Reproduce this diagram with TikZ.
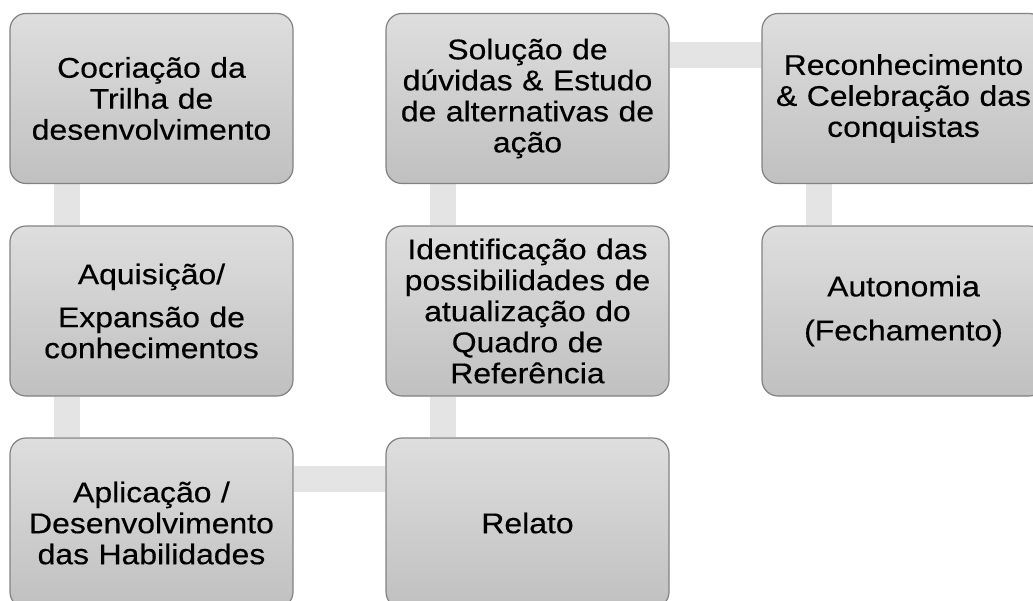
\documentclass[tikz,border=0pt]{standalone}
\usepackage{fontspec}
\setmainfont{Liberation Sans}[FakeStretch=1.12,FakeBold=0.4]
\usetikzlibrary{backgrounds}
\definecolor{etapatopo}{RGB}{222,222,222}
\definecolor{etapabase}{RGB}{192,192,192}
\definecolor{etapaborda}{RGB}{130,130,130}
\definecolor{elocinza}{RGB}{228,228,228}
\tikzset{
  etapa/.style={draw=etapaborda, line width=1.2pt, rounded corners=16pt,
    top color=etapatopo, bottom color=etapabase,
    minimum width=283pt, minimum height=170pt, text width=275pt,
    align=center, font=\fontsize{28.5}{31}\selectfont},
  elo/.style={draw=elocinza, line width=26pt}
}
\begin{document}
\begin{tikzpicture}[x=1pt,y=-1pt]
  \useasboundingbox (0,0) rectangle (1033,600);
  \clip (0,0) rectangle (1033,600);
  % etapas
  \node[etapa] (cocriacao) at (151.5,98.5) {Cocriação da\\Trilha de\\desenvolvimento};
  \node[etapa] (aquisicao) at (151.5,311) {Aquisição/\\[12pt]Expansão de\\conhecimentos};
  \node[etapa] (aplicacao) at (151.5,523) {Aplicação /\\Desenvolvimento\\das Habilidades};
  \node[etapa] (relato) at (527.5,523) {Relato};
  \node[etapa] (identif) at (527.5,311) {Identificação das\\possibilidades de\\atualização do\\Quadro de\\Referência};
  \node[etapa] (solucao) at (527.5,98.5) {Solução de\\dúvidas \& Estudo\\de alternativas de\\ação};
  \node[etapa] (reconhec) at (903.5,98.5) {Reconhecimento\\\& Celebração das\\conquistas};
  \node[etapa] (autonomia) at (903.5,311) {Autonomia\\[13pt](Fechamento)};
  % elos
  \begin{scope}[on background layer]
    \draw[elo] ([xshift=58pt]cocriacao.south west) -- ([xshift=58pt]aquisicao.north west);
    \draw[elo] ([xshift=58pt]aquisicao.south west) -- ([xshift=58pt]aplicacao.north west);
    \draw[elo] ([yshift=-42pt]aplicacao.north east) -- ([yshift=-42pt]relato.north west);
    \draw[elo] ([xshift=58pt]relato.north west) -- ([xshift=58pt]identif.south west);
    \draw[elo] ([xshift=58pt]identif.north west) -- ([xshift=58pt]solucao.south west);
    \draw[elo] ([yshift=-42pt]solucao.north east) -- ([yshift=-42pt]reconhec.north west);
    \draw[elo] ([xshift=58pt]reconhec.south west) -- ([xshift=58pt]autonomia.north west);
  \end{scope}
\end{tikzpicture}
\end{document}
